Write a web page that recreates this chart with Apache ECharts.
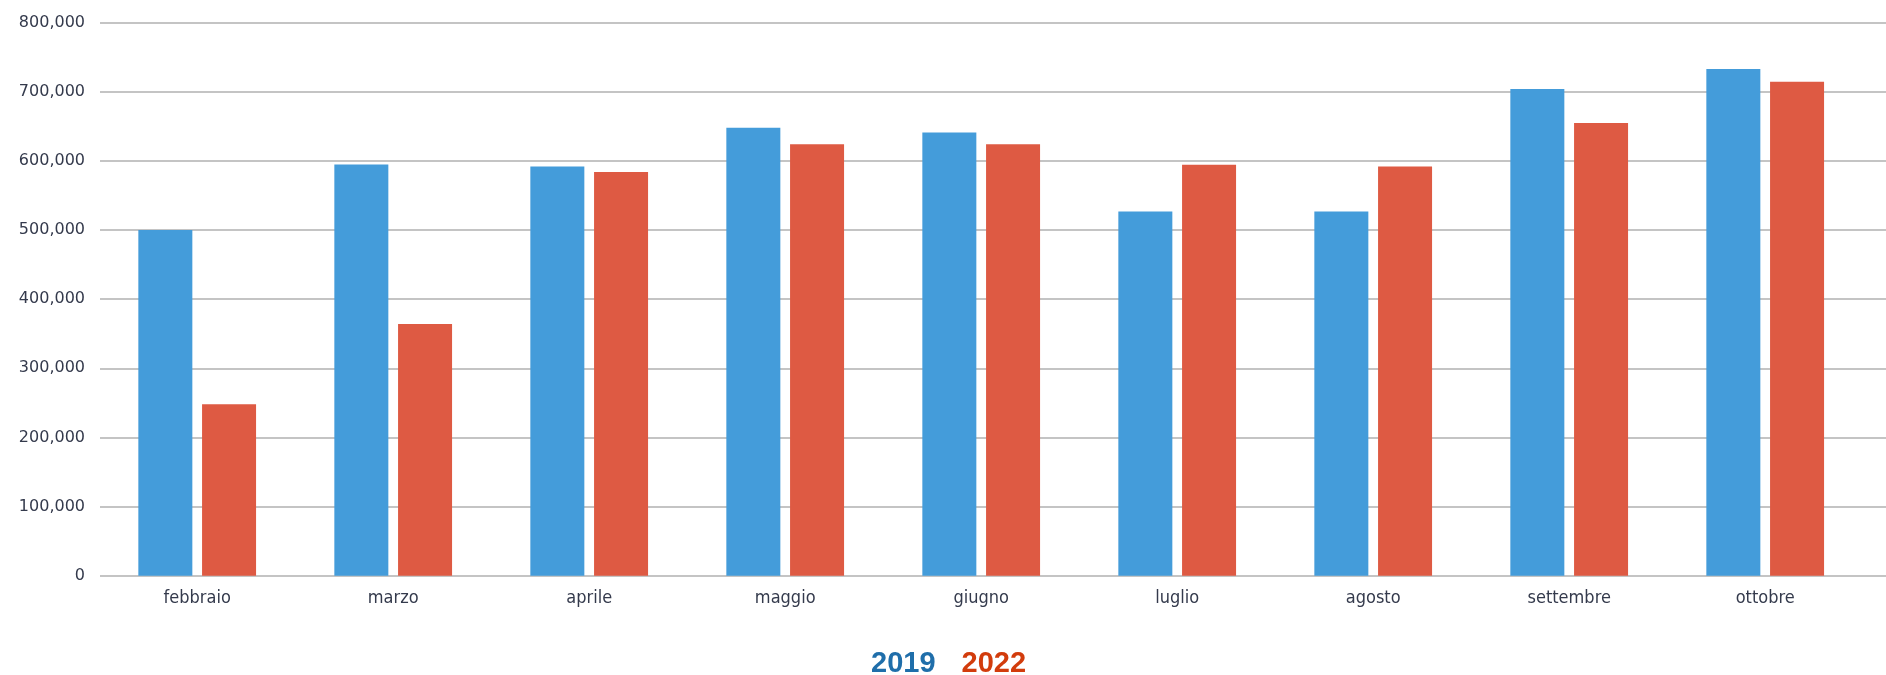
<!DOCTYPE html>
<html>
<head>
<meta charset="utf-8">
<script src="https://cdn.jsdelivr.net/npm/echarts@6/dist/echarts.min.js"></script>
<style>
html,body{margin:0;padding:0;background:#fff;}
#chart{width:1886px;height:675px;}
</style>
</head>
<body>
<div id="chart"></div>
<script>
const categories = ['febbraio','marzo','aprile','maggio','giugno','luglio','agosto','settembre','ottobre'];
const seriesNames = ['2019','2022'];
const values2019 = [500000, 595000, 592000, 648000, 641000, 527000, 527000, 704000, 733000];
const values2022 = [248000, 364000, 584000, 624000, 624000, 594500, 592000, 655000, 714500];
const yMin = 0, yMax = 800000, yStep = 100000;

const chart = echarts.init(document.getElementById('chart'), null, {renderer:'canvas'});
const labelColor = '#343a4c';
chart.setOption({
  animation: false,
  backgroundColor: '#ffffff',
  grid: [
    {left: 100, right: 0, top: 22.7, height: 553, containLabel: false},
    {left: 99.2, right: 22.8, top: 22.7, height: 553, containLabel: false}
  ],
  legend: {
    data: [
      {name: seriesNames[0], textStyle: {color: '#1f6eaa'}},
      {name: seriesNames[1], textStyle: {color: '#d23c0c'}}
    ],
    icon: 'none',
    itemWidth: 0,
    itemGap: 21,
    left: 861,
    top: 644,
    textStyle: {fontFamily: 'Liberation Sans', fontWeight: 'bold', fontSize: 29}
  },
  xAxis: [
    {gridIndex: 0, type: 'value', show: false, min: 0, max: 1},
    {gridIndex: 1, type: 'category', data: categories,
     axisLine: {show: false}, axisTick: {show: false},
     axisLabel: {color: labelColor, fontFamily: 'DejaVu Sans Condensed', fontSize: 18, margin: 14}}
  ],
  yAxis: [
    {gridIndex: 0, type: 'value', min: yMin, max: yMax, interval: yStep,
     axisLine: {show: false}, axisTick: {show: false},
     axisLabel: {color: labelColor, fontFamily: 'DejaVu Sans', fontSize: 16, margin: 15,
       formatter: v => v.toLocaleString('en-US')},
     splitLine: {lineStyle: {color: '#c4c4c4', width: 2}}},
    {gridIndex: 1, type: 'value', min: yMin, max: yMax, interval: yStep, show: false,
     splitLine: {show: false}}
  ],
  series: [
    {name: seriesNames[0], type: 'bar', xAxisIndex: 1, yAxisIndex: 1, data: values2019,
     barWidth: 54, barGap: '18%', itemStyle: {color: '#449cda'}},
    {name: seriesNames[1], type: 'bar', xAxisIndex: 1, yAxisIndex: 1, data: values2022,
     barWidth: 54, barGap: '18%', itemStyle: {color: '#de5a43'}}
  ]
});
</script>
</body>
</html>
